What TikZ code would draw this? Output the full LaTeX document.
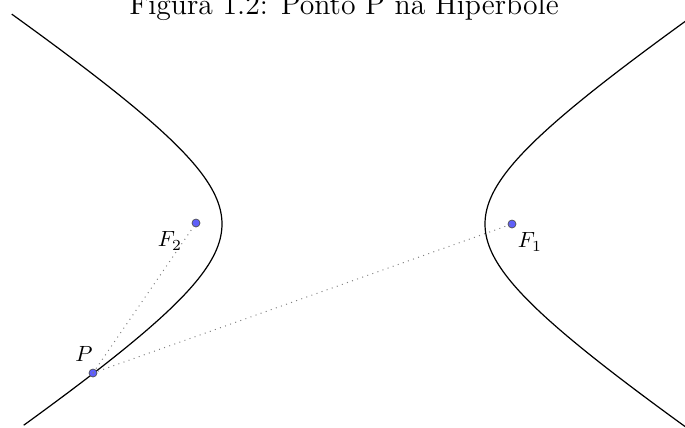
\documentclass[tikz,border=0pt]{standalone}
\begin{document}
\begin{tikzpicture}[x=0.4545pt,y=-0.4545pt,
  ponto/.style={circle,draw=black!70,line width=0.3pt,fill={rgb,255:red,95;green,95;blue,250},inner sep=0pt,minimum size=8pt*0.4545},
  curva/.style={black,line width=0.55pt},
  seg/.style={gray,dotted,line width=0.45pt},
  rot/.style={inner sep=0pt}]
\useasboundingbox (0,0) rectangle (685,427);
\node[anchor=base,font=\fontsize{13.5}{16}\selectfont] (titulo) at (344,14.5) {Figura 1.2: Ponto P na Hipérbole};
\begin{scope}
\clip (0,0) rectangle (685,427);
\draw[curva,domain=-1.609:1.571,samples=200,smooth,variable=\t] plot ({353.5-131.5*cosh(\t)},{224+87.5*sinh(\t)});
\draw[curva,domain=-1.7:1.7,samples=200,smooth,variable=\t] plot ({353.5+131.5*cosh(\t)},{224+87.5*sinh(\t)});
\end{scope}
\node[ponto] (P) at (93,373) {};
\node[ponto] (F2) at (196,223) {};
\node[ponto] (F1) at (512,224) {};
\draw[seg] (P.center) -- (F2.center);
\draw[seg] (P.center) -- (F1.center);
\node[rot] (lP) at (84,354) {$P$};
\node[rot] (lF2) at (170,241) {$F_2$};
\node[rot] (lF1) at (530,242) {$F_1$};
\end{tikzpicture}
\end{document}
